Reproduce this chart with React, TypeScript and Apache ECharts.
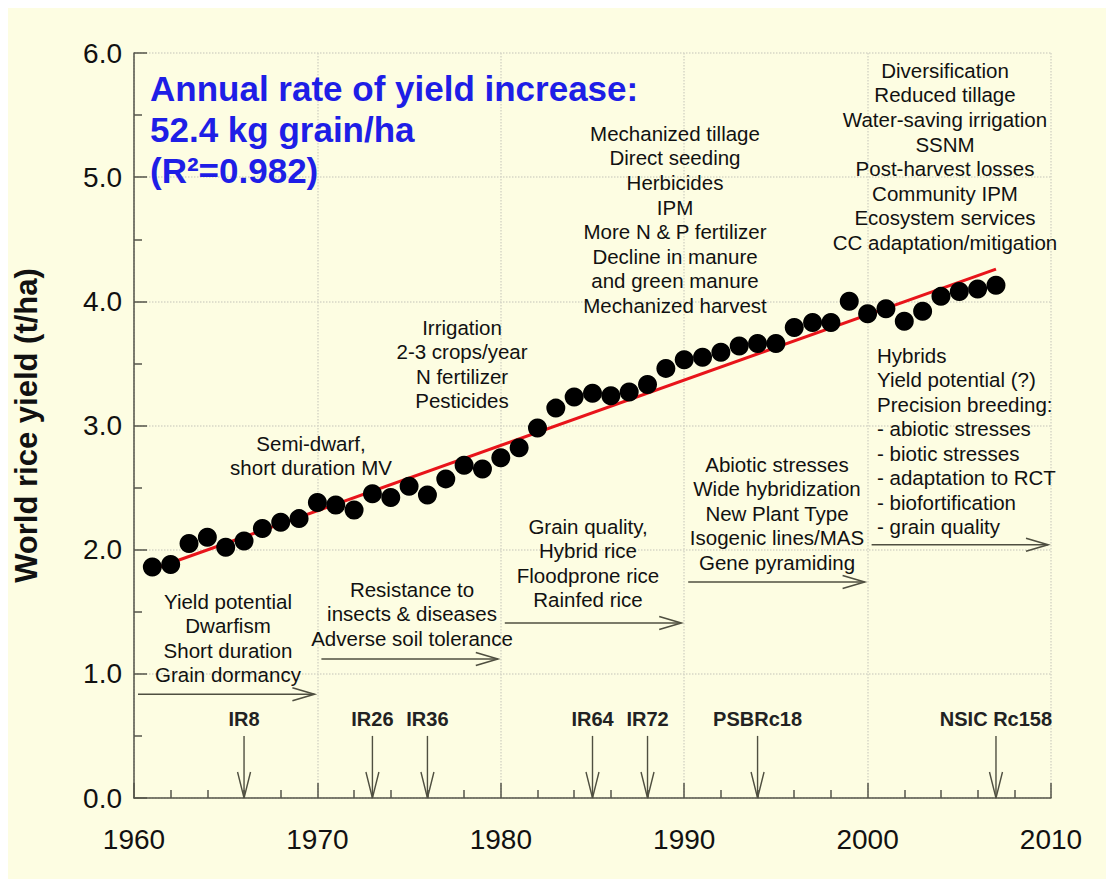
import React, { useEffect, useRef } from "react";
import * as echarts from "echarts";

// ---------- data ----------
const years = [
  1961, 1962, 1963, 1964, 1965, 1966, 1967, 1968, 1969, 1970,
  1971, 1972, 1973, 1974, 1975, 1976, 1977, 1978, 1979, 1980,
  1981, 1982, 1983, 1984, 1985, 1986, 1987, 1988, 1989, 1990,
  1991, 1992, 1993, 1994, 1995, 1996, 1997, 1998, 1999, 2000,
  2001, 2002, 2003, 2004, 2005, 2006, 2007,
];
const riceYield = [
  1.86, 1.88, 2.05, 2.1, 2.02, 2.07, 2.17, 2.22, 2.25, 2.38,
  2.36, 2.32, 2.45, 2.42, 2.51, 2.44, 2.57, 2.68, 2.65, 2.74,
  2.82, 2.98, 3.14, 3.23, 3.26, 3.24, 3.27, 3.33, 3.46, 3.53,
  3.55, 3.59, 3.64, 3.66, 3.66, 3.79, 3.83, 3.83, 4.0, 3.9,
  3.94, 3.84, 3.92, 4.04, 4.08, 4.1, 4.13,
];
const trendYears = [1961, 2007];
const trendValues = [1.84, 4.26];

const varietyNames = ["IR8", "IR26", "IR36", "IR64", "IR72", "PSBRc18", "NSIC Rc158"];
const varietyYears = [1966, 1973, 1976, 1985, 1988, 1994, 2007];
const varietyArrowTop = 0.5;

const eraStartYears = [1960, 1970, 1980, 1990, 2000];
const eraEndYears = [1970, 1980, 1990, 2000, 2010];
const eraArrowLevels = [0.835, 1.12, 1.41, 1.74, 2.04];

const titleLines = ["Annual rate of yield increase:", "52.4 kg grain/ha", "(R²=0.982)"];
const yAxisTitle = "World rice yield (t/ha)";

const breedingText1 = ["Yield potential", "Dwarfism", "Short duration", "Grain dormancy"];
const breedingText2 = ["Resistance to", "insects & diseases", "Adverse soil tolerance"];
const breedingText3 = ["Grain quality,", "Hybrid rice", "Floodprone rice", "Rainfed rice"];
const breedingText4 = ["Abiotic stresses", "Wide hybridization", "New Plant Type", "Isogenic lines/MAS", "Gene pyramiding"];
const breedingText5 = [
  "Hybrids", "Yield potential (?)", "Precision breeding:", "- abiotic stresses",
  "- biotic stresses", "- adaptation to RCT", "- biofortification", "- grain quality",
];
const mgmtText1 = ["Semi-dwarf,", "short duration MV"];
const mgmtText2 = ["Irrigation", "2-3 crops/year", "N fertilizer", "Pesticides"];
const mgmtText3 = [
  "Mechanized tillage", "Direct seeding", "Herbicides", "IPM", "More N & P fertilizer",
  "Decline in manure", "and green manure", "Mechanized harvest",
];
const mgmtText4 = [
  "Diversification", "Reduced tillage", "Water-saving irrigation", "SSNM",
  "Post-harvest losses", "Community IPM", "Ecosystem services", "CC adaptation/mitigation",
];

// ---------- style ----------
const OFF = 8; // body margin
const FONT = '"Liberation Sans", Arial, sans-serif';
const ARROW = "#4f4f40";
const AXIS = "#55554a";
const GRIDC = "#d6d6c6";

export default function App() {
  const ref = useRef<HTMLDivElement>(null);

  useEffect(() => {
    if (!ref.current) return;
    const chart = echarts.init(ref.current, undefined, { renderer: "svg" });

    const block = (lines: string[], x: number, top: number, align = "center", lh = 24.5, size = 20.5) => ({
      type: "text",
      x: x - OFF,
      y: top - OFF,
      style: {
        text: lines.join("\n"),
        textAlign: align,
        textVerticalAlign: "top",
        font: `${size}px ${FONT}`,
        lineHeight: lh,
        fill: "#111",
      },
      z: 50,
    });

    chart.setOption({
      animation: false,
      backgroundColor: "#fdfde2",
      grid: {
        left: 134 - OFF,
        right: 1106 - 1051,
        top: 53 - OFF,
        bottom: 879 - 798,
        containLabel: false,
        outerBoundsMode: "none",
      },
      xAxis: {
        type: "value",
        min: 1960,
        max: 2010,
        interval: 10,
        axisLine: { show: true, lineStyle: { color: AXIS, width: 1.5 } },
        axisTick: { show: true, inside: true, length: 15, lineStyle: { color: AXIS, width: 1.5 } },
        minorTick: { show: true, splitNumber: 5, length: 8, lineStyle: { color: AXIS, width: 1.5 } },
        axisLabel: {
          color: "#111", fontFamily: FONT, fontSize: 28, margin: 27,
          formatter: (v: number) => String(v),
        },
        splitLine: { show: true, lineStyle: { color: GRIDC, type: "dotted", width: 1.5 } },
      },
      yAxis: {
        type: "value",
        min: 0,
        max: 6,
        interval: 1,
        name: yAxisTitle,
        nameLocation: "middle",
        nameGap: 92,
        nameRotate: 90,
        nameTextStyle: { color: "#111", fontFamily: FONT, fontSize: 31, fontWeight: "bold", lineHeight: 32 },
        axisLine: { show: true, lineStyle: { color: AXIS, width: 1.5 } },
        axisTick: { show: true, inside: true, length: 13, lineStyle: { color: AXIS, width: 1.5 } },
        minorTick: { show: true, splitNumber: 2, length: 8, lineStyle: { color: AXIS, width: 1.5 } },
        axisLabel: {
          color: "#111", fontFamily: FONT, fontSize: 28, margin: 12,
          formatter: (v: number) => v.toFixed(1),
        },
        splitLine: { show: true, lineStyle: { color: GRIDC, type: "dotted", width: 1.5 } },
      },
      series: [
        {
          type: "line",
          data: trendYears.map((y, i) => [y, trendValues[i]]),
          symbol: "none",
          lineStyle: { color: "#e8141a", width: 3 },
          z: 3,
        },
        {
          type: "scatter",
          data: years.map((y, i) => [y, riceYield[i]]),
          symbol: "circle",
          symbolSize: 19,
          itemStyle: { color: "#000", opacity: 1 },
          z: 5,
        },
        {
          type: "custom",
          data: varietyYears.map((y) => [y, 0]),
          z: 4,
          renderItem: (params: any, api: any) => {
            const yr = api.value(0);
            const bottom = api.coord([yr, 0]);
            const top = api.coord([yr, varietyArrowTop]);
            const x = bottom[0];
            return {
              type: "group",
              children: [
                { type: "line", shape: { x1: x, y1: top[1], x2: x, y2: bottom[1] }, style: { stroke: ARROW, lineWidth: 1.4 } },
                {
                  type: "polyline",
                  shape: { points: [[x - 6.5, bottom[1] - 26], [x, bottom[1]], [x + 6.5, bottom[1] - 26]] },
                  style: { stroke: ARROW, fill: "none", lineWidth: 1.4 },
                },
                {
                  type: "text",
                  style: {
                    text: varietyNames[params.dataIndex],
                    x,
                    y: top[1] - 17,
                    textAlign: "center",
                    textVerticalAlign: "middle",
                    font: `bold 20px ${FONT}`,
                    fill: "#222",
                  },
                },
              ],
            };
          },
        },
        {
          type: "custom",
          data: eraStartYears.map((s, i) => [s, eraArrowLevels[i], eraEndYears[i]]),
          z: 4,
          renderItem: (params: any, api: any) => {
            const p0 = api.coord([api.value(0), api.value(1)]);
            const p1 = api.coord([api.value(2), api.value(1)]);
            const x0 = p0[0] + 4;
            const x1 = p1[0] - 3;
            const y = p0[1];
            return {
              type: "group",
              children: [
                { type: "line", shape: { x1: x0, y1: y, x2: x1, y2: y }, style: { stroke: ARROW, lineWidth: 1.6 } },
                {
                  type: "polyline",
                  shape: { points: [[x1 - 22, y - 6.5], [x1, y], [x1 - 22, y + 6.5]] },
                  style: { stroke: ARROW, fill: "none", lineWidth: 1.6 },
                },
              ],
            };
          },
        },
      ],
      graphic: [
        {
          type: "text",
          x: 150 - OFF,
          y: 68 - OFF,
          style: {
            text: titleLines.join("\n"),
            textAlign: "left",
            textVerticalAlign: "top",
            font: `bold 35px ${FONT}`,
            lineHeight: 41,
            fill: "#1e1ee6",
          },
          z: 50,
        },
        block(breedingText1, 228, 589),
        block(breedingText2, 412, 577),
        block(breedingText3, 588, 514),
        block(breedingText4, 777, 452),
        block(breedingText5, 877, 343, "left"),
        block(mgmtText1, 311, 431),
        block(mgmtText2, 462, 315),
        block(mgmtText3, 675, 121, "center", 24.6),
        block(mgmtText4, 945, 58, "center", 24.6),
      ],
    });

    return () => chart.dispose();
  }, []);

  return <div ref={ref} style={{ width: 1098, height: 871 }} />;
}
